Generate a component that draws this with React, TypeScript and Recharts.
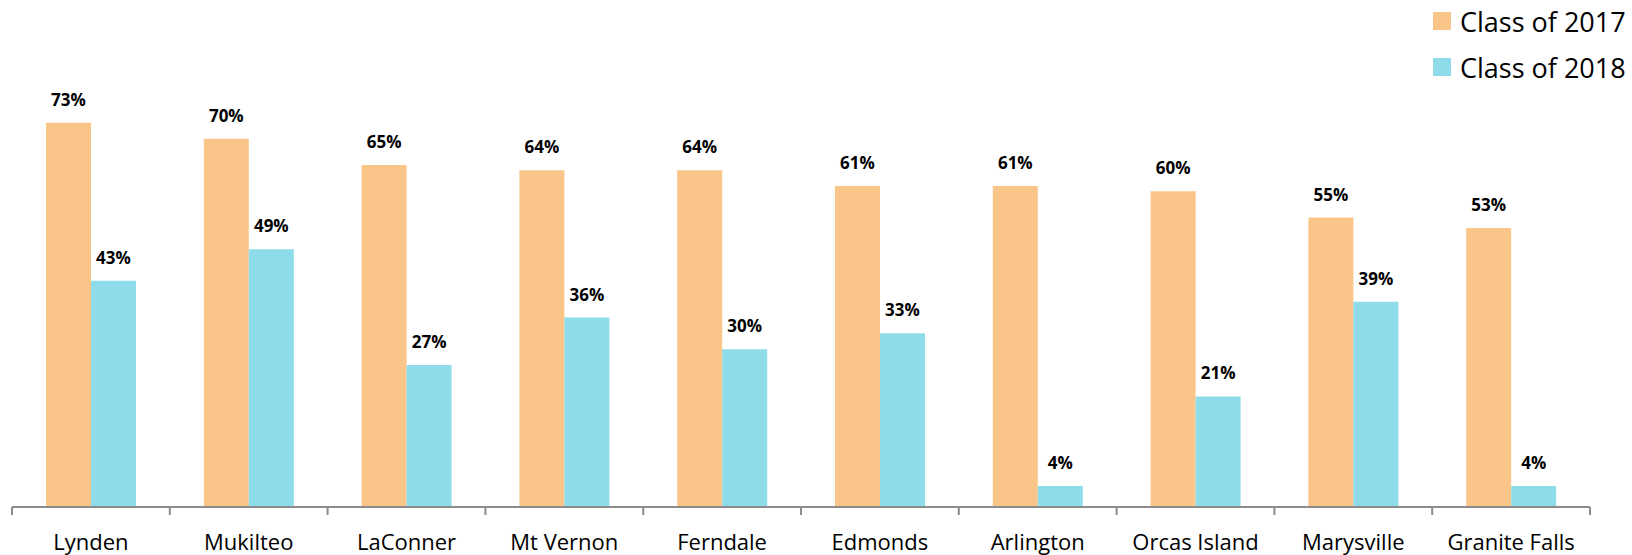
import React from 'react';
import { BarChart, Bar, XAxis, YAxis, Legend, LabelList } from 'recharts';

const schools = [
  'Lynden',
  'Mukilteo',
  'LaConner',
  'Mt Vernon',
  'Ferndale',
  'Edmonds',
  'Arlington',
  'Orcas Island',
  'Marysville',
  'Granite Falls',
];
const class2017 = [73, 70, 65, 64, 64, 61, 61, 60, 55, 53];
const class2018 = [43, 49, 27, 36, 30, 33, 4, 21, 39, 4];

const ORANGE = '#F9C589';
const BLUE = '#8EDCE9';
const AXIS = '#8c8c8c';
const FONT = "'Open Sans', sans-serif";
const TICK_GAP = 27; // axis line to top of category label
const TICK_LEN = 8;

const data = schools.map((name, i) => ({
  name,
  c2017: class2017[i],
  c2018: class2018[i],
}));

const legendItems = [
  { label: 'Class of 2017', color: ORANGE },
  { label: 'Class of 2018', color: BLUE },
];

const renderLegend = () => (
  <div style={{ fontFamily: FONT, fontSize: 27, color: '#000' }}>
    {legendItems.map((item) => (
      <div
        key={item.label}
        style={{ display: 'flex', alignItems: 'center', height: 46, whiteSpace: 'nowrap' }}
      >
        <span
          style={{
            display: 'inline-block',
            width: 18,
            height: 18,
            background: item.color,
            marginRight: 9,
          }}
        />
        {item.label}
      </div>
    ))}
  </div>
);

// Excel style: category label in the middle, tick marks on the band edges
const CategoryTick = (props: any) => {
  const { x, y, payload, index } = props;
  const half = payload && payload.offset ? payload.offset : 78.9;
  const axisY = y - TICK_GAP;
  return (
    <g>
      <line x1={x - half} x2={x - half} y1={axisY} y2={axisY + TICK_LEN} stroke={AXIS} strokeWidth={2} />
      {index === schools.length - 1 && (
        <line x1={x + half} x2={x + half} y1={axisY} y2={axisY + TICK_LEN} stroke={AXIS} strokeWidth={2} />
      )}
      <text x={x} y={y} dy="0.71em" textAnchor="middle" fill="#000" fontSize={22} fontFamily={FONT}>
        {payload.value}
      </text>
    </g>
  );
};

const labelStyle = { fontFamily: FONT, fontSize: 17, fontWeight: 700, fill: '#000' };
const pct = (v: any) => `${v}%`;

export default function App() {
  return (
    <div style={{ position: 'absolute', left: 0, top: 0 }}>
      <BarChart
        width={1632}
        height={555}
        data={data}
        margin={{ top: 86, right: 42, bottom: 0, left: 12 }}
        barGap={0}
        style={{ fontFamily: FONT }}
      >
        <XAxis
          dataKey="name"
          stroke={AXIS}
          strokeWidth={2}
          tickLine={false}
          interval={0}
          height={48}
          tickSize={0}
          tickMargin={TICK_GAP}
          tick={<CategoryTick />}
        />
        <YAxis hide domain={[0, 80]} />
        <Legend
          layout="horizontal"
          verticalAlign="middle"
          align="center"
          content={renderLegend}
          wrapperStyle={{ top: -2, left: 1433, width: 199, height: 92 }}
        />
        <Bar dataKey="c2017" name="Class of 2017" fill={ORANGE} barSize={45} isAnimationActive={false}>
          <LabelList dataKey="c2017" position="top" offset={17} formatter={pct} style={labelStyle} />
        </Bar>
        <Bar dataKey="c2018" name="Class of 2018" fill={BLUE} barSize={45} isAnimationActive={false}>
          <LabelList dataKey="c2018" position="top" offset={17} formatter={pct} style={labelStyle} />
        </Bar>
      </BarChart>
    </div>
  );
}
